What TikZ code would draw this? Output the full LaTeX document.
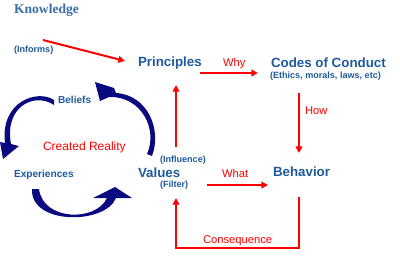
\documentclass[tikz,border=0pt]{standalone}
\usepackage{fontspec}
\setmainfont{Liberation Sans}
\newfontfamily\knowfont{Liberation Serif}
\usetikzlibrary{arrows.meta}
\definecolor{txtblue}{HTML}{1E5A9C}
\definecolor{knowblue}{HTML}{3A6FA8}
\definecolor{navy}{HTML}{0A0A80}
\definecolor{redc}{HTML}{FF0000}
\tikzset{
  lbl/.style={anchor=base west, inner sep=0pt, outer sep=0pt},
  big/.style={lbl, text=txtblue, font=\bfseries\fontsize{10}{12}\selectfont},
  small/.style={lbl, text=txtblue, font=\bfseries\fontsize{6.8}{8}\selectfont},
  mid/.style={lbl, text=txtblue, font=\bfseries\fontsize{7.6}{9}\selectfont},
  redlbl/.style={lbl, text=redc, font=\fontsize{8.4}{9}\selectfont},
  redarrow/.style={draw=redc, line width=1.5pt, -{Triangle[length=5pt,width=5pt]}},
  cyc/.style={fill=navy}
}
\begin{document}
\begin{tikzpicture}[x=0.75pt, y=-0.75pt]
\useasboundingbox (0,0) rectangle (400,258);
% text nodes
\node[lbl, text=knowblue, font=\knowfont\bfseries\fontsize{10.2}{12}\selectfont] (know) at (14,13.5) {Knowledge};
\node[small] (informs) at (14,52) {(Informs)};
\node[big] (princ) at (138,66.5) {Principles};
\node[big] (codes) at (271,67) {Codes of Conduct};
\node[small] (ethics) at (270,78.5) {(Ethics, morals, laws, etc)};
\node[redlbl] (why) at (223,66) {Why};
\node[redlbl] (how) at (305,114) {How};
\node[big] (behav) at (273,176.5) {Behavior};
\node[redlbl] (what) at (222,177) {What};
\node[big] (values) at (138,177) {Values};
\node[small] (influence) at (160,162) {(Influence)};
\node[small] (filter) at (160,187) {(Filter)};
\node[redlbl] (conseq) at (203,243) {Consequence};
\node[lbl, text=redc, font=\fontsize{9}{10}\selectfont] (created) at (43,150.5) {Created Reality};
\node[mid] (exper) at (14,177) {Experiences};
\node[mid] (beliefs) at (58,103) {Beliefs};
% connector end points
\coordinate (infS) at (43,40);
\coordinate (infE) at (125,61);
\coordinate (whyS) at (200,73);
\coordinate (whyE) at (258,73);
\coordinate (howS) at (299,93);
\coordinate (howE) at (299,153);
\coordinate (whatS) at (207,185);
\coordinate (whatE) at (268,185);
\coordinate (upS) at (176,147);
\coordinate (upE) at (176,85);
\coordinate (conS) at (299,197);
\coordinate (conC1) at (299,248);
\coordinate (conC2) at (176,248);
\coordinate (conE) at (176,198);
% red connectors
\draw[redarrow] (infS) -- (infE);
\draw[redarrow] (whyS) -- (whyE);
\draw[redarrow] (howS) -- (howE);
\draw[redarrow] (whatS) -- (whatE);
\draw[redarrow] (upS) -- (upE);
\draw[redarrow] (conS) -- (conC1) -- (conC2) -- (conE);
% cycle arrows
\fill[cyc] (152,156) .. controls (162,130) and (148,95) .. (116,93) -- (114,88) -- (95,82) -- (100,101) -- (109,97) .. controls (142,96) and (158,130) .. (147,154) -- cycle;
\fill[cyc] (54,100) .. controls (38,89) and (0,101) .. (5,143) -- (0,142) -- (3,159) -- (19,146) -- (11,144) .. controls (4,106) and (35,92) .. (54,105) -- cycle;
\fill[cyc] (32,189) .. controls (30,225) and (105,225) .. (116,198) -- (132,198) -- (115,187) -- (93,198) -- (107,198) .. controls (96,222) and (43,221) .. (39,189) -- cycle;
\end{tikzpicture}
\end{document}
